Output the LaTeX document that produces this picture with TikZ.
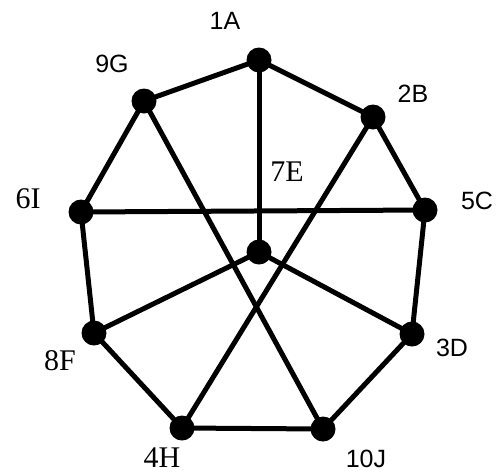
\documentclass[tikz,border=0pt]{standalone}
\usepackage{fontspec}
\setmainfont{Liberation Serif}
\setsansfont{Liberation Sans}
\begin{document}
\begin{tikzpicture}[x=1pt,y=-1pt,
  dot/.style={circle,fill=black,inner sep=0pt,minimum size=25pt},
  edge/.style={line width=5pt},
  slab/.style={font=\sffamily\fontsize{25}{25}\selectfont,inner sep=0pt},
  serlab/.style={font=\fontsize{30}{30}\selectfont,inner sep=0pt}]
\useasboundingbox (0,0) rectangle (501,475);
\node[dot] (a) at (259,60) {};
\node[dot] (b) at (373,117) {};
\node[dot] (g) at (144,101) {};
\node[dot] (c) at (425,210) {};
\node[dot] (i) at (81,212) {};
\node[dot] (e) at (259,252) {};
\node[dot] (d) at (412,334) {};
\node[dot] (f) at (94,333) {};
\node[dot] (h) at (182,428) {};
\node[dot] (j) at (323,429) {};
\draw[edge] (a.center) -- (g.center);
\draw[edge] (a.center) -- (b.center);
\draw[edge] (a.center) -- (e.center);
\draw[edge] (b.center) -- (c.center);
\draw[edge] (g.center) -- (i.center);
\draw[edge] (i.center) -- (c.center);
\draw[edge] (i.center) -- (f.center);
\draw[edge] (c.center) -- (d.center);
\draw[edge] (f.center) -- (h.center);
\draw[edge] (h.center) -- (j.center);
\draw[edge] (j.center) -- (d.center);
\draw[edge] (g.center) -- (j.center);
\draw[edge] (b.center) -- (h.center);
\draw[edge] (e.center) -- (f.center);
\draw[edge] (e.center) -- (d.center);
\node[slab] (la) at (225,21) {1A};
\node[slab] (lg) at (112,64) {9G};
\node[slab] (lb) at (413,94) {2B};
\node[slab] (lc) at (477,201) {5C};
\node[serlab] (le) at (287,172) {7E};
\node[serlab] (li) at (28,199) {6I};
\node[serlab] (lf) at (60,361) {8F};
\node[slab] (ld) at (452,348) {3D};
\node[serlab] (lh) at (162,458) {4H};
\node[slab] (lj) at (366,459) {10J};
\end{tikzpicture}
\end{document}
